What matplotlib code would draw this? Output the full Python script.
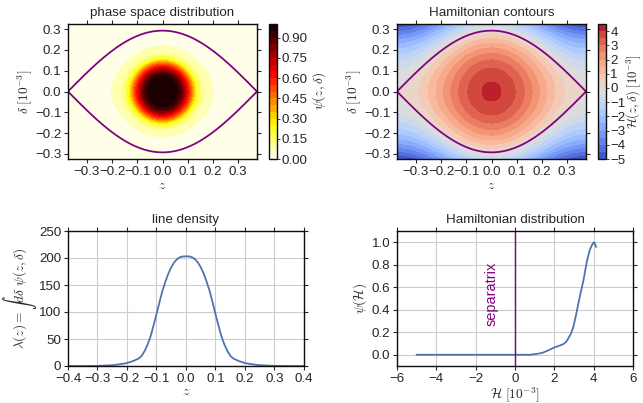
import numpy as np
import matplotlib
matplotlib.use("Agg")
import matplotlib.pyplot as plt

plt.rcParams['font.family'] = ['Liberation Sans', 'DejaVu Sans']
plt.rcParams['mathtext.fontset'] = 'cm'
plt.rcParams['text.color'] = '.15'
plt.rcParams['axes.labelcolor'] = '.15'
plt.rcParams['xtick.color'] = '.15'
plt.rcParams['ytick.color'] = '.15'
plt.rcParams['axes.edgecolor'] = '0.05'

# values read off the reference
# line density lambda(z)
z_line = [-0.40, -0.35, -0.30, -0.25, -0.22, -0.20, -0.18, -0.16, -0.15, -0.14,
          -0.13, -0.12, -0.11, -0.10, -0.09, -0.08, -0.07, -0.06, -0.05, -0.04,
          -0.03, -0.02, -0.01, 0.00, 0.01, 0.02, 0.03, 0.04, 0.05, 0.06, 0.07,
          0.08, 0.09, 0.10, 0.11, 0.12, 0.13, 0.14, 0.15, 0.16, 0.18, 0.20,
          0.22, 0.25, 0.30, 0.35, 0.40]
lam_line = [0, 0, 0.2, 1.5, 3.5, 5.5, 9, 14, 19, 28,
            40, 55, 75, 96, 118, 139, 156, 171, 183, 192,
            198, 201.5, 203, 203, 203, 201.5, 198, 192, 183, 171, 156,
            139, 118, 96, 75, 55, 40, 28, 19, 14, 9, 5.5,
            3.5, 1.5, 0.2, 0, 0]

# Hamiltonian distribution psi(H), H in 1e-3
ham_vals = [-5.0, -3.0, -1.0, 0.0, 0.77, 1.2, 1.44, 1.7, 2.0, 2.25, 2.46, 2.6,
            2.71, 2.85, 2.97, 3.1, 3.22, 3.35, 3.48, 3.58, 3.68, 3.8, 3.9,
            3.96, 4.02, 4.08, 4.12]
psi_vals = [0.0, 0.0, 0.0, 0.0, 0.0, 0.01, 0.02, 0.04, 0.065, 0.08, 0.095, 0.115,
            0.145, 0.19, 0.25, 0.35, 0.455, 0.56, 0.66, 0.76, 0.85, 0.93, 0.97,
            0.99, 1.0, 0.98, 0.96]

# bucket parameters (pendulum-like Hamiltonian)
z_sep = 0.375      # half bucket length
delta_sep = 0.293  # bucket height [1e-3]
H_max = 4.1        # Hamiltonian at bucket centre [1e-3]
delta_max = 0.323

psi_levels = np.linspace(0, 1, 21)
ham_levels = np.arange(-5, 4.51, 0.5)

zz = np.linspace(-z_sep, z_sep, 400)
dd = np.linspace(-delta_max, delta_max, 400)
Z, D = np.meshgrid(zz, dd)
H = 0.5 * H_max * (1 + np.cos(np.pi * Z / z_sep)) - H_max / delta_sep**2 * D**2
PSI = np.interp(H, ham_vals, psi_vals)

W, Hpx = 643, 403
fig = plt.figure(figsize=(W / 80, Hpx / 80), dpi=80)


def px(l, t, r, b):
    return [l / W, 1 - b / Hpx, (r - l) / W, (b - t) / Hpx]


def style(ax, grid=True):
    ax.tick_params(direction='out', length=4, width=1, labelsize=12, pad=2,
                   top=True, right=True)
    for s in ax.spines.values():
        s.set_linewidth(1.25)
    ax.set_axisbelow(True)
    if grid:
        ax.grid(True, color='.8', lw=1)


ax1 = fig.add_axes(px(68, 24, 257, 159))
cax1 = fig.add_axes(px(269, 24, 277, 159))
ax2 = fig.add_axes(px(397, 24, 586, 159))
cax2 = fig.add_axes(px(598, 24, 606, 159))
ax3 = fig.add_axes(px(68, 231, 304, 366))
ax4 = fig.add_axes(px(397, 231, 633, 366))

# phase space distribution
cf1 = ax1.contourf(Z, D, PSI, levels=psi_levels, cmap='hot_r')
ax1.contour(Z, D, H, levels=[0], colors='purple', linewidths=1.6)
ax1.set_title('phase space distribution', fontsize=12, pad=7)
cb1 = fig.colorbar(cf1, cax=cax1, ticks=np.arange(0, 0.91, 0.15))
cb1.set_label(r'$\psi(z,\delta)$', fontsize=12, labelpad=2)

# Hamiltonian contours
cf2 = ax2.contourf(Z, D, H, levels=ham_levels, cmap='coolwarm')
ax2.contour(Z, D, H, levels=[0], colors='purple', linewidths=1.6)
ax2.set_title('Hamiltonian contours', fontsize=12, pad=7)
cb2 = fig.colorbar(cf2, cax=cax2, ticks=np.arange(-5, 5, 1))
cb2.set_label(r'$\mathcal{H}(z,\delta)\ [10^{-3}]$', fontsize=11.5, labelpad=-1)

for ax in (ax1, ax2):
    style(ax, grid=False)
    ax.set_xlim(-z_sep, z_sep)
    ax.set_ylim(-0.325, 0.325)
    ax.set_xticks(np.arange(-0.3, 0.31, 0.1))
    ax.set_yticks(np.arange(-0.3, 0.31, 0.1))
    ax.set_xlabel(r'$z$', fontsize=12, labelpad=2)
    ax.set_ylabel(r'$\delta\ [10^{-3}]$', fontsize=12, labelpad=1)
for cb in (cb1, cb2):
    cb.ax.tick_params(direction='out', length=3, labelsize=12, pad=1,
                      color='.15')
    cb.outline.set_linewidth(1.25)

# line density
ax3.plot(z_line, lam_line, color='#4C72B0', lw=1.6)
ax3.set_xlim(-0.4, 0.4)
ax3.set_ylim(0, 250)
ax3.set_xticks(np.arange(-0.4, 0.41, 0.1))
ax3.set_title('line density', fontsize=12, pad=7)
ax3.set_xlabel(r'$z$', fontsize=12, labelpad=1)
ax3.set_ylabel(r'$\lambda(z) = \int d\delta\ \psi(z,\delta)$', fontsize=12,
               labelpad=0)
style(ax3)

# Hamiltonian distribution
ax4.plot(ham_vals, psi_vals, color='#4C72B0', lw=1.6)
ax4.axvline(0, color='purple', lw=1.3)
ax4.text(-0.85, 0.54, 'separatrix', color='purple', rotation=90,
         ha='right', va='center', fontsize=13)
ax4.set_xlim(-6, 6)
ax4.set_ylim(-0.1, 1.1)
ax4.set_xticks(np.arange(-6, 6.1, 2))
ax4.set_yticks(np.arange(0, 1.01, 0.2))
ax4.set_title('Hamiltonian distribution', fontsize=12, pad=7)
ax4.set_xlabel(r'$\mathcal{H}\ [10^{-3}]$', fontsize=12, labelpad=0)
ax4.set_ylabel(r'$\psi(\mathcal{H})$', fontsize=12, labelpad=2)
style(ax4)

fig.savefig('out.png', dpi=80)
